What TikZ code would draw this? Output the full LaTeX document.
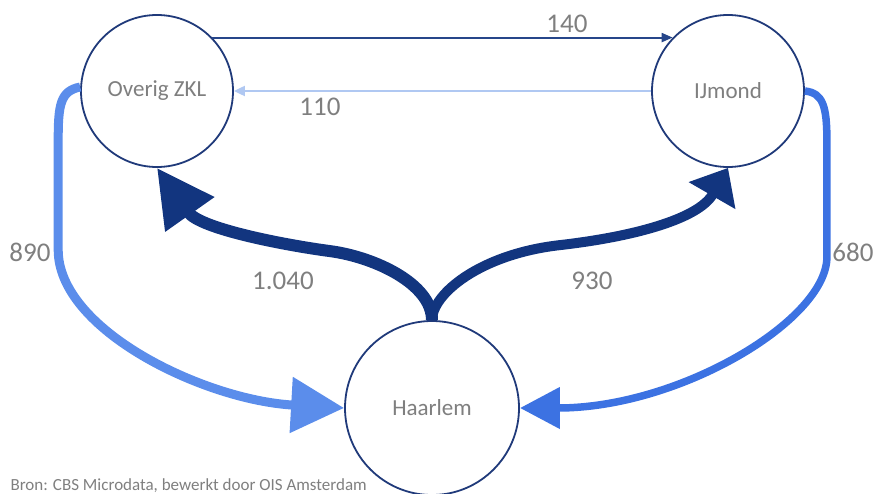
\documentclass[tikz,border=0pt]{standalone}
\usepackage{fontspec}
\setmainfont{Carlito}
\usepackage{tikz}
\usetikzlibrary{arrows.meta}

\definecolor{ringblue}{RGB}{32,58,122}
\definecolor{flownavy}{RGB}{18,53,127}
\definecolor{flowmid}{RGB}{91,141,235}
\definecolor{flowbright}{RGB}{60,114,226}
\definecolor{flowpale}{RGB}{176,200,242}
\definecolor{flowthin}{RGB}{38,70,138}
\definecolor{labelgray}{RGB}{127,127,127}

\begin{document}
\begin{tikzpicture}[x=1pt, y=-1pt]
	\tikzstyle{main}=[circle, minimum size = 152pt, inner sep = 0pt, line width = 1.8pt, draw = ringblue, fill = white, text = labelgray, font = \fontsize{23}{28}\selectfont]
	\tikzstyle{num}=[text = labelgray, font = \fontsize{27}{32}\selectfont]
	\tikzstyle{connect}=[line width = 2pt]
	
	\useasboundingbox (0,0) rectangle (878,494);
	
	\node[main] (ozkl) at (157,91) {Overig ZKL};
	\node[main] (ijm) at (728,91) {IJmond};
	\node[main, minimum size = 174pt] (haarlem) at (432,408) {Haarlem};
	
	% flows between the two outer regions
	\draw[connect, draw = flowthin, -{Triangle[length=11pt, width=9pt]}] (ozkl.44) -- (ijm.136);
	\draw[connect, draw = flowpale, -{Triangle[length=11pt, width=10pt]}] (ijm.west) -- (ozkl.east);
	
	% flows into Haarlem
	\draw[line width = 9pt, draw = flowmid, -{Triangle[length=53pt, width=54pt]}]
	(ozkl.177) .. controls +(-20,4) and +(0,-35) .. ++(-22,53) -- ++(0,110)
	.. controls +(0,80) and +(-140,-8) .. (haarlem.west);
	\draw[line width = 7.5pt, draw = flowbright, -{Triangle[length=40pt, width=40pt]}]
	(ijm.east) .. controls +(18,2) and +(0,-35) .. ++(22,50) -- ++(0,116)
	.. controls +(0,63) and +(160,0) .. (haarlem.east);
	
	% flows out of Haarlem
	\draw[line width = 12pt, draw = flownavy, -{Triangle[length=57pt, width=57pt]}]
	(haarlem.north) .. controls +(0,-36) and +(45,6) .. ++(-102,-69)
	.. controls +(-45,-6) and +(43,61) .. (ozkl.south);
	\draw[line width = 10pt, draw = flownavy, -{Triangle[length=32pt, width=52pt]}]
	(haarlem.north) .. controls +(0,-26) and +(-80,9) .. ++(128,-75)
	.. controls +(70,-8) and +(-30,52) .. (ijm.south);
	
	\node[num] (n140) at (567,24) {140};
	\node[num] (n110) at (320,107) {110};
	\node[num] (n890) at (30,252) {890};
	\node[num] (n680) at (853,252) {680};
	\node[num] (n1040) at (283,281) {1.040};
	\node[num] (n930) at (592,281) {930};
	
	\node[anchor = west, text = labelgray, font = \fontsize{17}{20}\selectfont] (bron) at (7,486) {Bron: CBS Microdata, bewerkt door OIS Amsterdam};
	
\end{tikzpicture}
\end{document}
